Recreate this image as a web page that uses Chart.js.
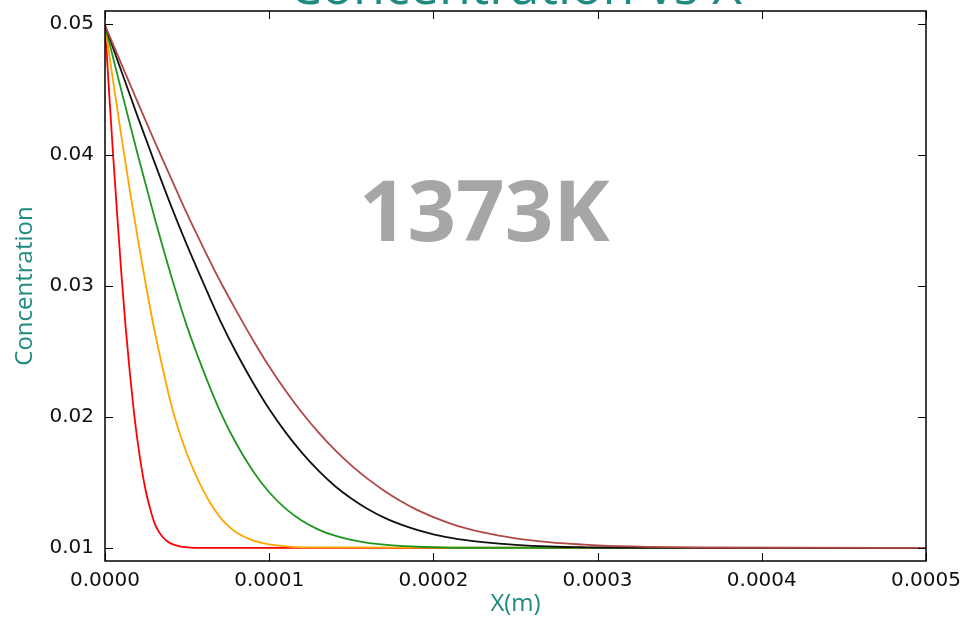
<!DOCTYPE html>
<html>
<head>
<meta charset="utf-8">
<title>Concentration vs X</title>
<script src="https://cdn.jsdelivr.net/npm/chart.js@4"></script>
<style>
  html, body { margin: 0; padding: 0; background: #fff; }
  #wrap { width: 969px; height: 619px; }
</style>
</head>
<body>
<div id="wrap"><canvas id="concChart" width="969" height="619"></canvas></div>
<script>
// Depth in units of 1e-5 m and concentration
const redX = [0, 0.25, 0.5, 0.75, 1, 1.25, 1.5, 1.75, 2, 2.25, 2.5, 2.75, 3, 3.25, 3.5, 3.75, 4, 4.5, 5, 6, 50];
const redY = [0.0499, 0.0448, 0.0399, 0.0353, 0.0309, 0.02695, 0.02355, 0.0205, 0.0180, 0.01592, 0.01425, 0.0130, 0.01195, 0.0113, 0.01085, 0.01055, 0.01035, 0.01013, 0.01004, 0.0100, 0.0100];

const orangeX = [0, 0.5, 1, 1.5, 2, 2.5, 3, 3.5, 4, 4.5, 5, 5.5, 6, 6.5, 7, 7.5, 8, 9, 10, 11, 12, 50];
const orangeY = [0.0499, 0.0456, 0.0414, 0.0374, 0.0336, 0.0300, 0.0267, 0.0238, 0.0211, 0.01895, 0.01715, 0.01565, 0.01435, 0.01325, 0.01235, 0.01168, 0.01118, 0.01058, 0.01027, 0.01011, 0.01004, 0.0100];

const greenX = [0, 1, 2, 3, 4, 5, 6, 7, 8, 9, 10, 11, 12, 13, 14, 15, 16, 17, 18, 19, 20, 22, 50];
const greenY = [0.0499, 0.0449, 0.0400, 0.0353, 0.0309, 0.0269, 0.0235, 0.02045, 0.01795, 0.0159, 0.01425, 0.0130, 0.01207, 0.0114, 0.01093, 0.01061, 0.01039, 0.01025, 0.01015, 0.01009, 0.01005, 0.01001, 0.0100];

const blackX = [0, 1, 2, 3, 4, 5, 6, 7, 8, 9, 10, 11, 12, 13, 14, 15, 16, 17, 18, 19, 20, 21, 22, 23, 24, 25, 26, 27, 28, 29, 30, 35, 50];
const blackY = [0.0499, 0.0464, 0.0429, 0.0395, 0.0362, 0.0331, 0.0302, 0.0274, 0.0249, 0.02265, 0.0206, 0.01882, 0.01726, 0.0159, 0.01473, 0.01377, 0.01297, 0.01231, 0.01179, 0.01137, 0.01104, 0.01079, 0.01059, 0.01044, 0.01032, 0.01023, 0.01016, 0.01011, 0.01007, 0.01005, 0.01003, 0.0100, 0.0100];

const brownX = [0, 1, 2, 3, 4, 5, 6, 7, 8, 9, 10, 11, 12, 13, 14, 15, 16, 17, 18, 19, 20, 21, 22, 23, 24, 25, 26, 27, 28, 29, 30, 33, 36, 50];
const brownY = [0.0499, 0.04695, 0.0440, 0.0411, 0.0383, 0.0355, 0.0329, 0.0304, 0.0281, 0.0259, 0.02385, 0.0220, 0.02032, 0.01882, 0.01748, 0.0163, 0.01527, 0.01437, 0.01358, 0.0129, 0.01235, 0.01188, 0.01149, 0.01118, 0.01094, 0.01073, 0.01057, 0.01044, 0.01034, 0.01026, 0.01019, 0.01008, 0.01003, 0.0100];

const xTicks = [0, 0.0001, 0.0002, 0.0003, 0.0004, 0.0005];
const xTickLabels = ["0.0000", "0.0001", "0.0002", "0.0003", "0.0004", "0.0005"];
const yTicks = [0.01, 0.02, 0.03, 0.04, 0.05];
const yTickLabels = ["0.01", "0.02", "0.03", "0.04", "0.05"];

const TEAL = "#1f8a80";
const X_UNIT = 1e-5; // x arrays are stored in units of 1e-5 m

function toPoints(xs, ys) {
  return xs.map((x, i) => ({ x: x * X_UNIT, y: ys[i] }));
}

// matplotlib-style box with inward ticks on all four sides
const framePlugin = {
  id: "frame",
  afterDatasetsDraw(chart) {
    const { ctx, chartArea: a, scales } = chart;
    ctx.save();
    ctx.strokeStyle = "#000";
    ctx.lineWidth = 1;
    ctx.beginPath();
    xTicks.forEach(v => {
      const px = Math.round(scales.x.getPixelForValue(v)) + 0.5;
      ctx.moveTo(px, a.bottom); ctx.lineTo(px, a.bottom - 8);
      ctx.moveTo(px, a.top); ctx.lineTo(px, a.top + 8);
    });
    yTicks.forEach(v => {
      const py = Math.round(scales.y.getPixelForValue(v)) + 0.5;
      ctx.moveTo(a.left, py); ctx.lineTo(a.left + 8, py);
      ctx.moveTo(a.right, py); ctx.lineTo(a.right - 8, py);
    });
    ctx.stroke();
    ctx.lineWidth = 1.5;
    ctx.strokeRect(a.left, a.top, a.right - a.left, a.bottom - a.top);
    ctx.restore();
  },
  afterDraw(chart) {
    const { ctx, chartArea: a, scales } = chart;
    ctx.save();
    ctx.textAlign = "center";
    ctx.textBaseline = "alphabetic";
    // title sits mostly above the canvas edge, as in the reference
    ctx.fillStyle = TEAL;
    ctx.font = "52px 'Open Sans'";
    ctx.fillText("Concentration vs X", (a.left + a.right) / 2, 4);
    ctx.fillStyle = "#a6a6a6";
    ctx.font = "bold 85px 'Open Sans'";
    ctx.fillText("1373K", scales.x.getPixelForValue(0.000231), scales.y.getPixelForValue(0.0334));
    ctx.restore();
  }
};

function makeLine(label, xs, ys, color, order) {
  return {
    label: label,
    data: toPoints(xs, ys),
    borderColor: color,
    borderWidth: 1.8,
    pointRadius: 0,
    fill: false,
    cubicInterpolationMode: "monotone",
    order: order
  };
}

const ctx = document.getElementById("concChart").getContext("2d");

new Chart(ctx, {
  type: "line",
  data: {
    datasets: [
      makeLine("red", redX, redY, "#ff0000", 5),
      makeLine("orange", orangeX, orangeY, "#ffa500", 4),
      makeLine("green", greenX, greenY, "#1f961f", 3),
      makeLine("black", blackX, blackY, "#111111", 2),
      makeLine("brown", brownX, brownY, "#b04848", 1)
    ]
  },
  options: {
    responsive: false,
    animation: false,
    layout: { padding: { top: 11, right: 43, bottom: 0, left: 0 } },
    plugins: {
      legend: { display: false },
      tooltip: { enabled: false },
      title: { display: false }
    },
    scales: {
      x: {
        type: "linear",
        min: 0,
        max: 0.0005,
        afterBuildTicks: s => { s.ticks = xTicks.map(v => ({ value: v })); },
        afterFit: s => { s.height = 58; },
        grid: { display: false, drawTicks: false },
        border: { display: false },
        ticks: {
          autoSkip: false,
          maxRotation: 0,
          padding: 8,
          color: "#111",
          font: { family: "DejaVu Sans", size: 20 },
          callback: (v, i) => xTickLabels[i]
        },
        title: {
          display: true,
          text: "X(m)",
          color: TEAL,
          font: { family: "Open Sans", size: 24 },
          padding: { top: 0, bottom: 0 }
        }
      },
      y: {
        type: "linear",
        min: 0.009,
        max: 0.051,
        afterBuildTicks: s => { s.ticks = yTicks.map(v => ({ value: v })); },
        afterFit: s => { s.width = 105; s.paddingTop = 0; s.paddingBottom = 0; },
        grid: { display: false, drawTicks: false },
        border: { display: false },
        ticks: {
          autoSkip: false,
          padding: 11,
          color: "#111",
          font: { family: "DejaVu Sans", size: 20 },
          callback: (v, i) => yTickLabels[i]
        },
        title: {
          display: true,
          text: "Concentration",
          color: TEAL,
          font: { family: "Open Sans", size: 24 },
          padding: { top: 11, bottom: 0 }
        }
      }
    }
  },
  plugins: [framePlugin]
});
</script>
</body>
</html>
